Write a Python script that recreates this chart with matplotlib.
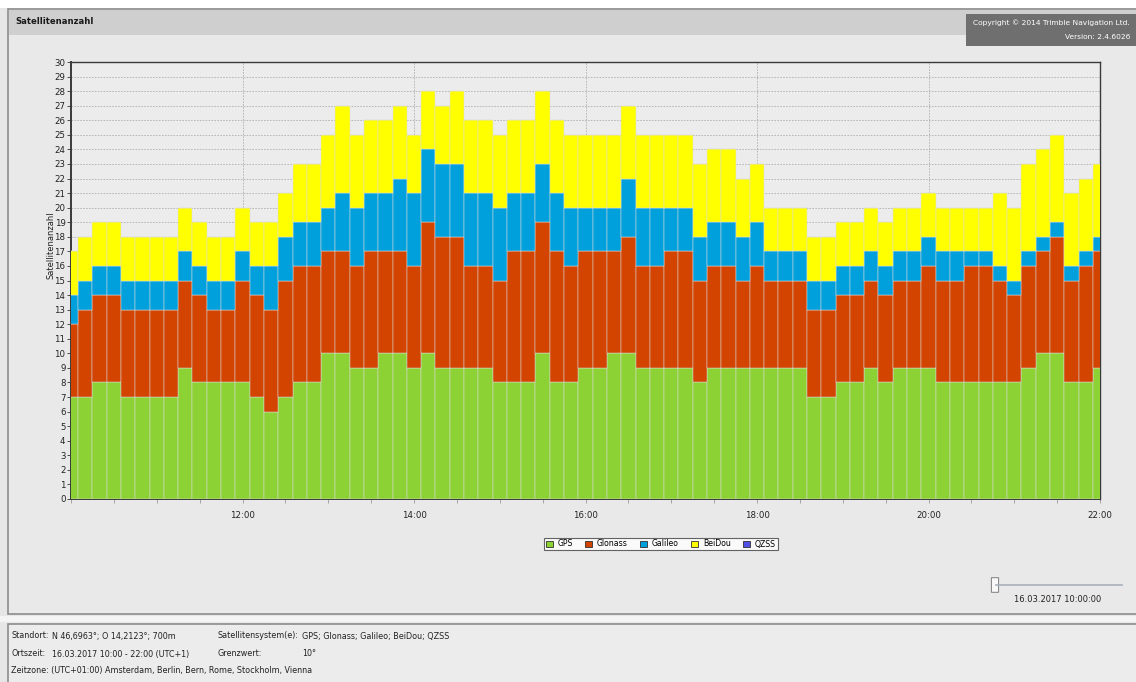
import matplotlib
matplotlib.use("Agg")
import matplotlib.pyplot as plt
from matplotlib.patches import Rectangle, FancyBboxPatch
from matplotlib.lines import Line2D
from matplotlib.ticker import MultipleLocator, FixedLocator
import numpy as np

W, H = 1136, 682

# ---- data: satellites per system, every 10 min from 10:00 to 22:00 ----
series_names = ["GPS", "Glonass", "Galileo", "BeiDou", "QZSS"]
series_colors = ["#8dd235", "#d24400", "#00a0dc", "#ffff00", "#5050e6"]

gps = [7, 7, 8, 8, 7, 7, 7, 7, 9, 8, 8, 8, 8, 7, 6, 7, 8, 8, 10, 10, 9, 9, 10, 10, 9,
       10, 9, 9, 9, 9, 8, 8, 8, 10, 8, 8, 9, 9, 10, 10, 9, 9, 9, 9, 8, 9, 9, 9, 9,
       9, 9, 9, 7, 7, 8, 8, 9, 8, 9, 9, 9, 8, 8, 8, 8, 8, 8, 9, 10, 10, 8, 8, 9]
glonass = [5, 6, 6, 6, 6, 6, 6, 6, 6, 6, 5, 5, 7, 7, 7, 8, 8, 8, 7, 7, 7, 8, 7, 7, 7,
           9, 9, 9, 7, 7, 7, 9, 9, 9, 9, 8, 8, 8, 7, 8, 7, 7, 8, 8, 7, 7, 7, 6, 7,
           6, 6, 6, 6, 6, 6, 6, 6, 6, 6, 6, 7, 7, 7, 8, 8, 7, 6, 7, 7, 8, 7, 8, 8]
galileo = [2, 2, 2, 2, 2, 2, 2, 2, 2, 2, 2, 2, 2, 2, 3, 3, 3, 3, 3, 4, 4, 4, 4, 5, 5,
           5, 5, 5, 5, 5, 5, 4, 4, 4, 4, 4, 3, 3, 3, 4, 4, 4, 3, 3, 3, 3, 3, 3, 3,
           2, 2, 2, 2, 2, 2, 2, 2, 2, 2, 2, 2, 2, 2, 1, 1, 1, 1, 1, 1, 1, 1, 1, 1]
beidou = [3, 3, 3, 3, 3, 3, 3, 3, 3, 3, 3, 3, 3, 3, 3, 3, 4, 4, 5, 6, 5, 5, 5, 5, 4,
          4, 4, 5, 5, 5, 5, 5, 5, 5, 5, 5, 5, 5, 5, 5, 5, 5, 5, 5, 5, 5, 5, 4, 4,
          3, 3, 3, 3, 3, 3, 3, 3, 3, 3, 3, 3, 3, 3, 3, 3, 5, 5, 6, 6, 6, 5, 5, 5]
qzss = [0] * 73

start_hour = 10.0
step_hours = 10 / 60
x_tick_labels = ["12:00", "14:00", "16:00", "18:00", "20:00", "22:00"]
x_tick_pos = [12, 14, 16, 18, 20, 22]

plt.rcParams["font.family"] = ["DejaVu Sans"]

fig = plt.figure(figsize=(W / 100, H / 100), dpi=100)
fig.patch.set_facecolor("#e6e6e6")


def fx(px):
    return px / W


def fy(py):
    return 1 - py / H


def frect(x0, y0, x1, y1, **kw):
    r = Rectangle((fx(x0), fy(y1)), fx(x1) - fx(x0), fy(y0) - fy(y1),
                  transform=fig.transFigure, **kw)
    fig.add_artist(r)
    return r


# page background pieces
frect(0, 0, 1136, 8, facecolor="#ffffff", edgecolor="none", zorder=0)
frect(8, 9, 1140, 614, facecolor="#e9e9e9", edgecolor="#8c8c8c", linewidth=1.2, zorder=0)
frect(9, 10, 1140, 35, facecolor="#cfcfcf", edgecolor="none", zorder=0)
frect(0, 616, 1136, 622, facecolor="#f4f4f4", edgecolor="none", zorder=0)
frect(8, 624, 1140, 690, facecolor="#ececec", edgecolor="#8c8c8c", linewidth=1.2, zorder=0)

fig.text(fx(15), fy(22), "Satellitenanzahl", fontsize=6.1, fontweight="bold",
         color="#1a1a1a", ha="left", va="center")

# copyright box
frect(966, 14, 1136, 46, facecolor="#6f6f6f", edgecolor="none", zorder=1)
fig.text(fx(1130), fy(23), "Copyright \u00a9 2014 Trimble Navigation Ltd.", fontsize=5.4,
         color="#ffffff", ha="right", va="center", zorder=2)
fig.text(fx(1130), fy(37), "Version: 2.4.6026", fontsize=5.4,
         color="#ffffff", ha="right", va="center", zorder=2)

# ---- chart axes ----
ax = fig.add_axes([fx(71), fy(499), fx(1100) - fx(71), fy(62) - fy(499)])
ax.set_facecolor("#ececec")

n = len(gps)
x = [start_hour + i * step_hours for i in range(n)]
bottom = np.zeros(n)
handles = []
for name, vals, col in zip(series_names, [gps, glonass, galileo, beidou, qzss], series_colors):
    v = np.array(vals, dtype=float)
    ax.bar(x, v, width=step_hours, bottom=bottom, color=col, edgecolor="#dcdcdc",
           linewidth=0.35, align="center", zorder=3)
    bottom = bottom + v
    handles.append(Rectangle((0, 0), 1, 1, facecolor=col, edgecolor="#303030", linewidth=0.6))

ax.set_xlim(10, 22)
ax.set_ylim(0, 30)
ax.yaxis.set_major_locator(MultipleLocator(1))
ax.xaxis.set_major_locator(FixedLocator(x_tick_pos))
ax.set_xticklabels(x_tick_labels)
ax.xaxis.set_minor_locator(MultipleLocator(0.5))
ax.tick_params(axis="both", labelsize=6.2, colors="#333333", length=3, width=0.6)
ax.tick_params(axis="x", which="minor", length=3, width=0.6, colors="#999999")
ax.tick_params(axis="x", which="major", colors="#999999", labelcolor="#222222", pad=6)
ax.tick_params(axis="y", pad=1, labelcolor="#222222")
ax.grid(axis="y", linestyle=(0, (2, 1.5)), color="#b0b0b0", linewidth=0.6, zorder=0)
ax.grid(axis="x", which="major", linestyle=(0, (2, 1.5)), color="#b0b0b0", linewidth=0.6, zorder=0)
ax.set_axisbelow(True)
for side in ["left", "bottom", "top", "right"]:
    ax.spines[side].set_color("#3a3a3a")
    ax.spines[side].set_linewidth(1.0)
ax.spines["left"].set_linewidth(1.4)
ax.spines["bottom"].set_linewidth(1.4)

fig.text(fx(51), fy(245), "Satellitenanzahl", rotation=90, fontsize=6,
         color="#222222", ha="center", va="center")

# legend
leg = fig.legend(handles, series_names, loc="center", bbox_to_anchor=(fx(661), fy(544)),
                 ncol=5, fontsize=5.6, frameon=True, fancybox=False, handlelength=0.9,
                 handleheight=0.9, handletextpad=0.6, columnspacing=1.6, borderpad=0.25,
                 borderaxespad=0)
leg.get_frame().set_edgecolor("#404040")
leg.get_frame().set_linewidth(0.8)
leg.get_frame().set_facecolor("#ffffff")

# slider
fig.add_artist(Line2D([fx(996), fx(1122)], [fy(585), fy(585)], transform=fig.transFigure,
                      color="#a8b0b8", linewidth=1.2))
thumb = FancyBboxPatch((fx(992), fy(592)), fx(6), fy(578) - fy(592),
                       boxstyle="round,pad=0.0005", transform=fig.transFigure,
                       facecolor="#f8f8f8", edgecolor="#8a8a8a", linewidth=0.8)
fig.add_artist(thumb)
fig.text(fx(1058), fy(600), "16.03.2017 10:00:00", fontsize=6, color="#222222",
         ha="center", va="center")

# footer
fs = 5.8
fig.text(fx(11), fy(636), "Standort:", fontsize=fs, color="#222222", ha="left", va="center")
fig.text(fx(52), fy(636), "N 46,6963\u00b0; O 14,2123\u00b0; 700m", fontsize=fs, color="#222222", ha="left", va="center")
fig.text(fx(11), fy(654), "Ortszeit:", fontsize=fs, color="#222222", ha="left", va="center")
fig.text(fx(52), fy(654), "16.03.2017 10:00 - 22:00 (UTC+1)", fontsize=fs, color="#222222", ha="left", va="center")
fig.text(fx(11), fy(671), "Zeitzone: (UTC+01:00) Amsterdam, Berlin, Bern, Rome, Stockholm, Vienna",
         fontsize=fs, color="#222222", ha="left", va="center")
fig.text(fx(217), fy(636), "Satellitensystem(e):", fontsize=fs, color="#222222", ha="left", va="center")
fig.text(fx(302), fy(636), "GPS; Glonass; Galileo; BeiDou; QZSS", fontsize=fs, color="#222222", ha="left", va="center")
fig.text(fx(217), fy(654), "Grenzwert:", fontsize=fs, color="#222222", ha="left", va="center")
fig.text(fx(302), fy(654), "10\u00b0", fontsize=fs, color="#222222", ha="left", va="center")

fig.savefig("out.png", dpi=100, facecolor=fig.get_facecolor())
